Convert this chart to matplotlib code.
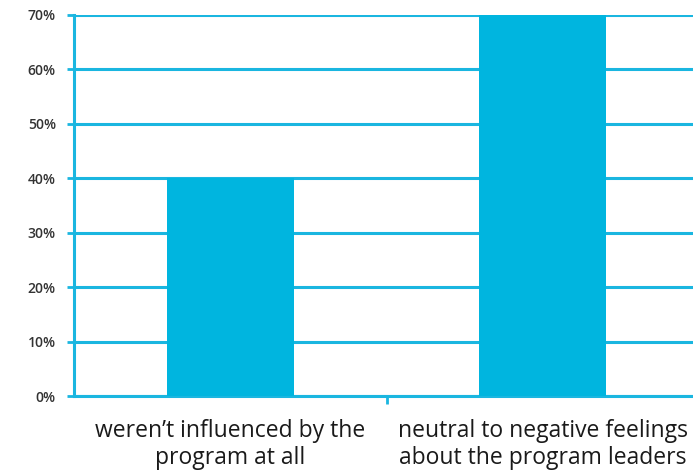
import matplotlib
matplotlib.use("Agg")
import matplotlib.pyplot as plt
import numpy as np

categories = ["weren\u2019t influenced by the\nprogram at all",
              "neutral to negative feelings\nabout the program leaders"]
values = [40, 70]
yticks = [0, 10, 20, 30, 40, 50, 60, 70]

blue = "#1ab6e0"
bar_blue = "#00b5df"

fig = plt.figure(figsize=(6.93, 4.75), dpi=100)
ax = fig.add_axes([74 / 693, 79 / 475, 625 / 693, 381 / 475])

x = np.arange(len(categories))
ax.bar(x, values, width=0.405, color=bar_blue, zorder=3)

ax.set_xlim(-0.5, 1.5)
ax.set_ylim(0, 70)
ax.set_yticks(yticks)
ax.set_yticklabels([f"{v}%" for v in yticks], fontsize=10, fontweight="semibold",
                   color="#333333", family="Open Sans")
ax.yaxis.grid(True, color=blue, linewidth=2.2, zorder=1)
ax.set_axisbelow(True)

ax.set_xticks([0.5])
ax.set_xticklabels([""])
for i, c in enumerate(categories):
    ax.text(i, -4.3, c, ha="center", va="top", fontsize=16.5, color="#1a1a1a",
            family="Open Sans", linespacing=1.12, transform=ax.transData)

for s in ["top", "right"]:
    ax.spines[s].set_visible(False)
ax.spines["left"].set_color(blue)
ax.spines["left"].set_linewidth(2.2)
ax.spines["bottom"].set_color(blue)
ax.spines["bottom"].set_linewidth(2.2)
ax.tick_params(axis="y", colors=blue, length=5, width=2, pad=8, labelcolor="#333333")
ax.tick_params(axis="x", colors=blue, length=6, width=2)

fig.savefig("out.png", dpi=100)
